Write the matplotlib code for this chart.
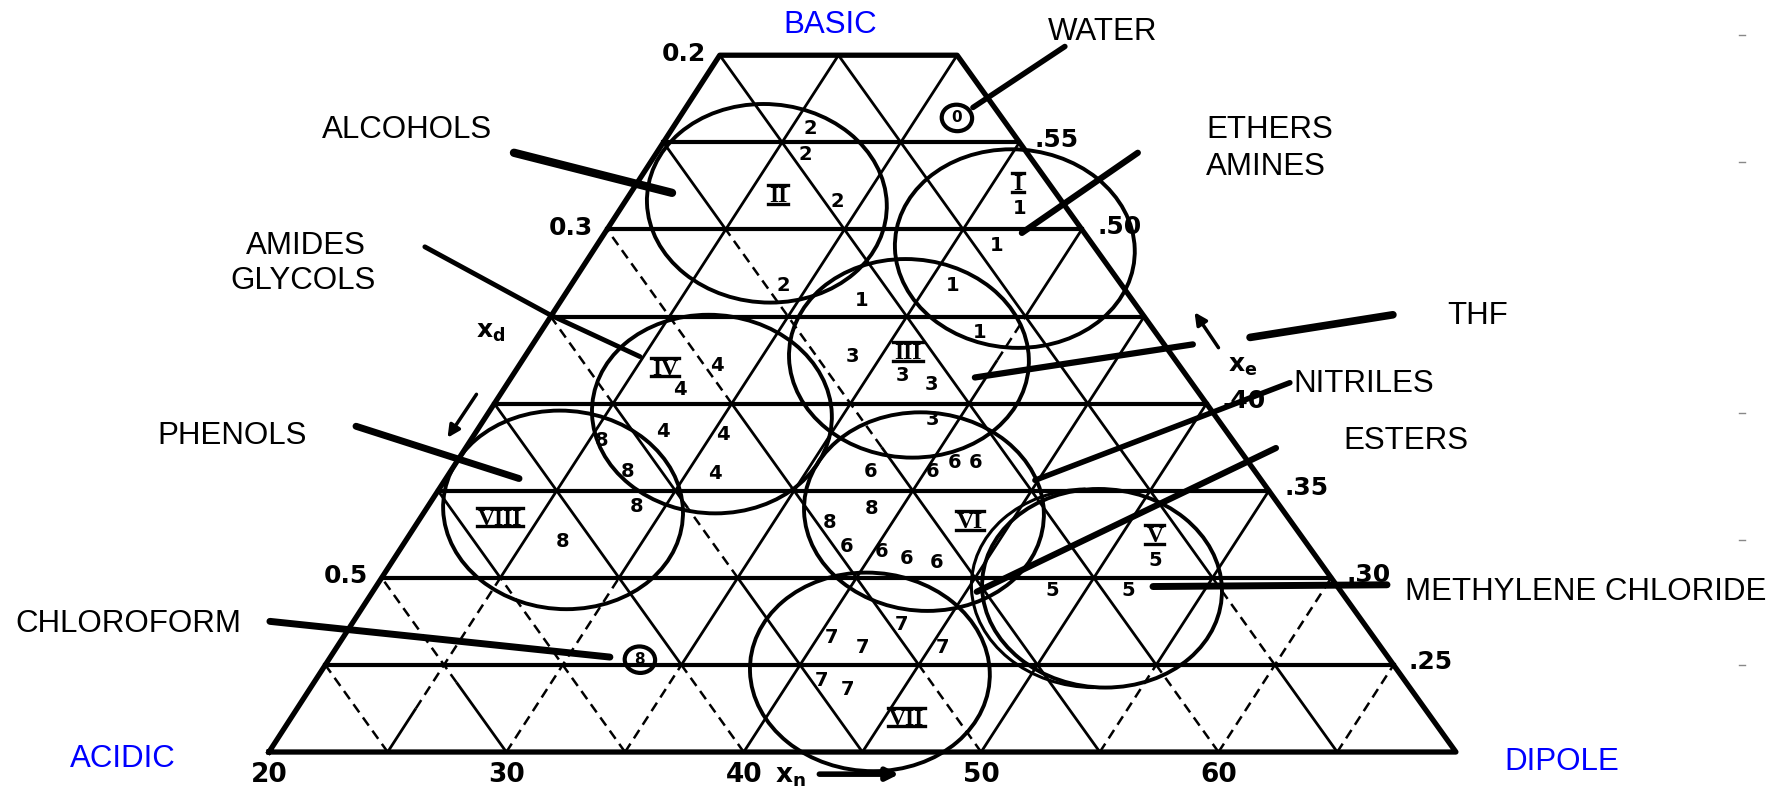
import numpy as np
import matplotlib
matplotlib.use("Agg")
import matplotlib.pyplot as plt
import matplotlib.transforms as mtransforms
from matplotlib.patches import Ellipse, Arc
from matplotlib.lines import Line2D

plt.rcParams['font.family'] = ['Liberation Sans', 'DejaVu Sans']

# scales of the triangle: x_n along the bottom, side labels by level
xn_ticks = [20, 30, 40, 50, 60]
left_labels = ['0.2', '0.3', '0.5']
left_label_xe = [0.60, 0.50, 0.30]
right_labels = ['.55', '.50', '.40', '.35', '.30', '.25']
right_label_xe = [0.55, 0.50, 0.40, 0.35, 0.30, 0.25]

XN_LO, XN_HI = 20, 70
XE_LO, XE_HI = 0.2, 0.6
STEP = 5          # grid spacing along x_n
SLOPE = 50        # x_n shift per unit of x_e along the sides

# selectivity groups (circle centres and numeral positions)
group_names = ['I', 'II', 'III', 'IV', 'V', 'VI', 'VII', 'VIII']
circle_xn = [52.15, 41.77, 47.53, 39.15, 55.33, 47.94, 45.43, 32.74]
circle_xe = [0.489, 0.515, 0.426, 0.394, 0.294, 0.338, 0.246, 0.339]
CIRCLE_W, CIRCLE_H = 10.1, 0.114
roman_xn = [52.38, 42.25, 47.50, 37.24, 57.64, 49.87, 46.92, 30.07]
roman_xe = [0.527, 0.520, 0.430, 0.421, 0.325, 0.333, 0.220, 0.335]

# individual solvents, marked with their group number
solvent_group = ['2'] * 4 + ['1'] * 5 + ['3'] * 4 + ['4'] * 5 + ['8'] * 6 \
    + ['6'] * 8 + ['5'] * 3 + ['7'] * 6
solvent_xn = [43.69, 43.45, 44.76, 42.33,
              52.42, 51.40, 49.49, 50.56, 45.64,
              45.17, 47.25, 48.46, 48.45,
              39.43, 37.84, 37.06, 39.58, 39.19,
              34.48, 35.53, 35.86, 32.69, 43.96, 45.75,
              45.77, 48.38, 49.32, 50.20, 44.65, 46.11, 47.16, 48.41,
              57.60, 53.22, 56.42,
              46.85, 43.88, 45.17, 48.54, 43.40, 44.48]
solvent_xe = [0.558, 0.543, 0.516, 0.468,
              0.512, 0.491, 0.468, 0.441, 0.459,
              0.427, 0.416, 0.411, 0.391,
              0.422, 0.408, 0.384, 0.382, 0.360,
              0.379, 0.361, 0.341, 0.321, 0.332, 0.340,
              0.361, 0.361, 0.366, 0.366, 0.318, 0.315, 0.311, 0.309,
              0.310, 0.293, 0.293,
              0.273, 0.266, 0.260, 0.260, 0.241, 0.236]

# circled single solvents
water_xn, water_xe = 49.90, 0.564
chloroform_xn, chloroform_xe = 35.76, 0.253

# grid pieces printed broken (direction, foot on x_n axis, x_e from, x_e to)
dashed = [(-1, 25, 0.200, 0.250), (1, 25, 0.225, 0.300),
          (-1, 30, 0.240, 0.300), (1, 30, 0.200, 0.300),
          (-1, 35, 0.200, 0.300), (1, 35, 0.200, 0.250),
          (-1, 40, 0.200, 0.250), (-1, 45, 0.300, 0.340),
          (-1, 45, 0.400, 0.450), (-1, 50, 0.200, 0.250),
          (-1, 50, 0.400, 0.500), (-1, 55, 0.375, 0.500),
          (1, 40, 0.425, 0.450), (1, 55, 0.200, 0.250),
          (-1, 60, 0.200, 0.250), (1, 60, 0.200, 0.300),
          (-1, 65, 0.250, 0.300), (1, 65, 0.200, 0.250)]

# pointer lines from the class names
leader_xn = [[54.55, 50.59], [31.19, 37.79], [57.47, 52.47],
             [27.30, 32.47, 36.20], [67.98, 61.93], [59.51, 50.28],
             [63.54, 52.66], [62.86, 50.05], [24.14, 30.93],
             [67.34, 57.48], [20.23, 34.50]]
leader_xe = [[0.605, 0.570], [0.544, 0.521], [0.544, 0.498],
             [0.490, 0.451, 0.427], [0.451, 0.438], [0.434, 0.415],
             [0.412, 0.356], [0.3745, 0.292], [0.387, 0.357],
             [0.296, 0.295], [0.275, 0.2545]]
leader_lw = [4, 6, 4.5, 3.5, 5.5, 4.5, 4, 4.5, 5, 5, 5]

W, H = 1779, 794
fig = plt.figure(figsize=(W / 100, H / 100), dpi=100)
ax = fig.add_axes([0, 0, 1, 1])
ax.set_xlim(8.67, 83.61)
ax.set_ylim(0.1759, 0.6317)
ax.axis('off')

# the printed triangle leans slightly to the left towards the top
skew = mtransforms.Affine2D.from_values(1, 0, -2.527, 1, 0.5054, 0) + ax.transData


def left_edge(xe):
    return XN_LO + SLOPE * (xe - XE_LO)


def right_edge(xe):
    return XN_HI - SLOPE * (xe - XE_LO)


def diag(foot, sign, xe0, xe1, **kw):
    xe = np.array([xe0, xe1])
    ax.plot(foot + sign * SLOPE * (xe - XE_LO), xe, transform=skew,
            color='black', solid_capstyle='butt', **kw)


solid_kw = dict(lw=2.0)
dash_kw = dict(lw=1.8, linestyle=(0, (4, 2.5)))

# diagonal grid
for sign in (1, -1):
    for foot in range(XN_LO + STEP, XN_HI, STEP):
        if sign == 1:
            top = min(XE_HI, XE_LO + (XN_HI - foot) / 100)
        else:
            top = min(XE_HI, XE_LO + (foot - XN_LO) / 100)
        cuts = sorted((a, b) for s, f, a, b in dashed if s == sign and f == foot)
        start = XE_LO
        for a, b in cuts:
            if a > start:
                diag(foot, sign, start, a, **solid_kw)
            diag(foot, sign, a, b, **dash_kw)
            start = b
        if start < top:
            diag(foot, sign, start, top, **solid_kw)

# horizontal levels
for xe in np.arange(XE_LO + 0.05, XE_HI - 0.01, 0.05):
    ax.plot([left_edge(xe), right_edge(xe)], [xe, xe], transform=skew,
            color='black', lw=3.0)

# outline
ax.plot([XN_LO, XN_HI, right_edge(XE_HI), left_edge(XE_HI), XN_LO],
        [XE_LO, XE_LO, XE_HI, XE_HI, XE_LO], transform=skew,
        color='black', lw=3.8, solid_joinstyle='round')

# group circles
for cx, cy in zip(circle_xn, circle_xe):
    ax.add_patch(Ellipse((cx, cy), CIRCLE_W, CIRCLE_H, transform=skew,
                         fill=False, lw=2.8, ec='black', zorder=3))
# second outline on the left of group V
ax.add_patch(Arc((circle_xn[4] - 0.45, circle_xe[4]), CIRCLE_W, CIRCLE_H,
                 theta1=150, theta2=240, transform=skew, lw=2.2,
                 color='black', zorder=3))

# solvent numbers
for g, x, y in zip(solvent_group, solvent_xn, solvent_xe):
    ax.text(x, y, g, transform=skew, ha='center', va='center',
            fontsize=14, fontweight='heavy', family='DejaVu Sans', zorder=4)

# circled water and chloroform
for (x, y, s) in [(water_xn, water_xe, '0'),
                  (chloroform_xn, chloroform_xe, '8')]:
    ax.add_patch(Ellipse((x, y), 1.28, 0.0152, transform=skew, fill=False,
                         lw=3.0, ec='black', zorder=4))
    ax.text(x, y, s, transform=skew, ha='center', va='center', fontsize=11,
            fontweight='bold', family='DejaVu Sans', zorder=4)

# roman numerals, barred above and below
ROMAN_FS = 17
cap_pt = 0.66 * ROMAN_FS
roman_tr = mtransforms.offset_copy(skew, fig, y=-cap_pt / 2, units='points')
roman_txt = []
for name, x, y in zip(group_names, roman_xn, roman_xe):
    roman_txt.append(ax.text(x, y, name, transform=roman_tr, ha='center',
                             va='baseline', fontsize=ROMAN_FS,
                             fontweight='bold', family='Liberation Serif',
                             zorder=4))

# leader lines
for xs, ys, lw in zip(leader_xn, leader_xe, leader_lw):
    ax.plot(xs, ys, transform=skew, color='black', lw=lw,
            solid_capstyle='round', solid_joinstyle='round', zorder=5)

# scale labels
tick_font = dict(fontweight='heavy', family='DejaVu Sans', color='black')
for lab, xe in zip(left_labels, left_label_xe):
    ax.annotate(lab, (left_edge(xe), xe), xycoords=skew, xytext=(-10, 1),
                textcoords='offset points', ha='right', va='center',
                fontsize=18, **tick_font)
for lab, xe in zip(right_labels, right_label_xe):
    ax.annotate(lab, (right_edge(xe), xe), xycoords=skew, xytext=(11, 2),
                textcoords='offset points', ha='left', va='center',
                fontsize=18, **tick_font)
for v in xn_ticks:
    ax.annotate(str(v), (v, XE_LO), xycoords=skew, xytext=(0, -7),
                textcoords='offset points', ha='center', va='top',
                fontsize=19, **tick_font)

# axis names with direction arrows
arrow_kw = dict(arrowstyle='-|>', color='black', mutation_scale=18)
fig.text(0.4445, 0.0220, r'$\mathbf{x}_\mathbf{n}$', fontsize=19,
         ha='center', va='center')
ax.annotate('', xy=(0.5070, 0.0250), xytext=(0.4590, 0.0250),
            xycoords='figure fraction',
            arrowprops=dict(lw=4, **arrow_kw))
fig.text(0.2760, 0.5819, r'$\mathbf{x}_\mathbf{d}$', fontsize=18,
         ha='center', va='center')
ax.annotate('', xy=(0.2507, 0.4458), xytext=(0.2687, 0.5063),
            xycoords='figure fraction',
            arrowprops=dict(lw=2.5, **arrow_kw))
fig.text(0.6987, 0.5390, r'$\mathbf{x}_\mathbf{e}$', fontsize=18,
         ha='center', va='center')
ax.annotate('', xy=(0.6706, 0.6096), xytext=(0.6858, 0.5592),
            xycoords='figure fraction',
            arrowprops=dict(lw=2.5, **arrow_kw))

# class names
lab_kw = dict(fontsize=22.5, va='center_baseline')
blue = '#0000ff'
fig.text(0.4666, 0.9723, 'BASIC', color=blue, ha='center', **lab_kw)
fig.text(0.0691, 0.0491, 'ACIDIC', color=blue, ha='center', **lab_kw)
fig.text(0.8780, 0.0453, 'DIPOLE', color=blue, ha='center', **lab_kw)
fig.text(0.6200, 0.9647, 'WATER', ha='center', **lab_kw)
fig.text(0.2288, 0.8401, 'ALCOHOLS', ha='center', **lab_kw)
fig.text(0.6779, 0.8401, 'ETHERS', ha='left', **lab_kw)
fig.text(0.6779, 0.7947, 'AMINES', ha='left', **lab_kw)
fig.text(0.1720, 0.6952, 'AMIDES', ha='center', **lab_kw)
fig.text(0.1703, 0.6499, 'GLYCOLS', ha='center', **lab_kw)
fig.text(0.8308, 0.6058, 'THF', ha='center', **lab_kw)
fig.text(0.7667, 0.5214, 'NITRILES', ha='center', **lab_kw)
fig.text(0.7903, 0.4496, 'ESTERS', ha='center', **lab_kw)
fig.text(0.1304, 0.4547, 'PHENOLS', ha='center', **lab_kw)
fig.text(0.7898, 0.2594, 'METHYLENE CHLORIDE', ha='left', **lab_kw)
fig.text(0.0720, 0.2179, 'CHLOROFORM', ha='center', **lab_kw)

# faint scanner marks on the right margin
for yy in [0.956, 0.796, 0.480, 0.320, 0.162]:
    fig.add_artist(Line2D([0.9775, 0.9810], [yy, yy], color='#888888', lw=1))

# bars over and under the numerals
fig.canvas.draw()
renderer = fig.canvas.get_renderer()
cap_px = cap_pt * fig.dpi / 72
for t in roman_txt:
    bb = t.get_window_extent(renderer)
    base = t.get_transform().transform(t.get_position())[1]
    for yy in (base - 1.5, base + cap_px + 1.5):
        fig.add_artist(Line2D([bb.x0 - 1, bb.x1 + 1], [yy, yy], lw=2.4,
                              color='black',
                              transform=mtransforms.IdentityTransform()))

fig.savefig('out.png', dpi=100, facecolor='white')
